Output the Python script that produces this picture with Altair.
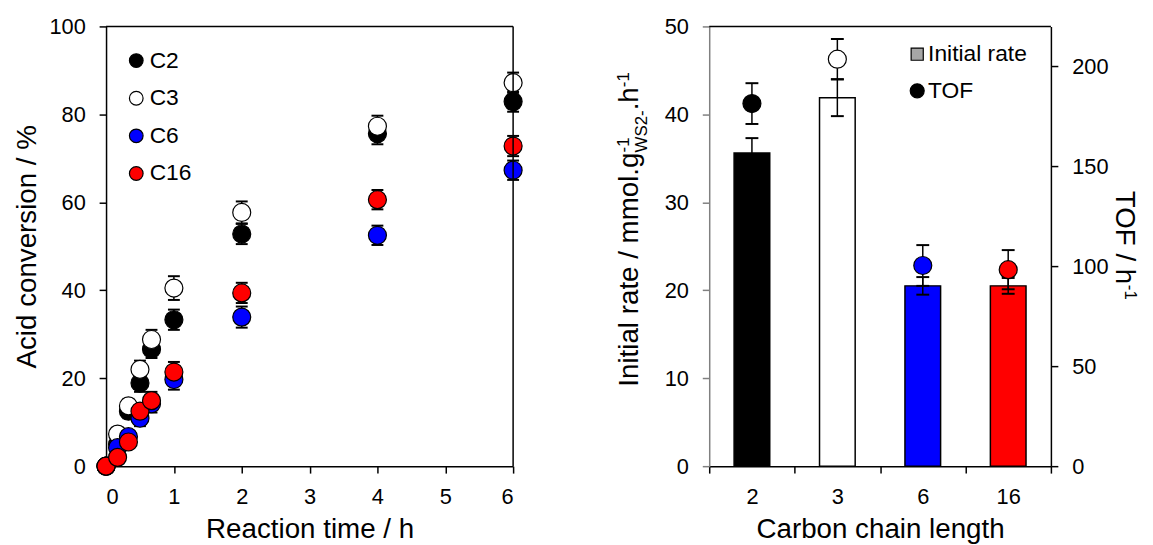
import altair as alt
import pandas as pd

FONT = "Liberation Sans"

# ---------------- Left panel: acid conversion vs time ----------------
times = [0, 0.17, 0.33, 0.5, 0.67, 1, 2, 4, 6]
series = ["C2", "C3", "C6", "C16"]
series_fill = ["#000000", "#ffffff", "#0000ff", "#ff0000"]
conv_c2 = [0, 5.0, 12.5, 18.9, 26.6, 33.3, 52.8, 75.6, 82.9]
conv_c3 = [0, 7.3, 13.7, 22.0, 28.8, 40.5, 57.7, 77.3, 87.2]
conv_c6 = [0, 4.2, 6.7, 10.9, 14.2, 19.7, 33.9, 52.5, 67.3]
conv_c16 = [0, 2.0, 5.5, 12.5, 14.9, 21.4, 39.4, 60.6, 72.8]
err_c2 = [0.5, 1.5, 1.6, 2.0, 2.0, 2.3, 2.3, 2.4, 2.3]
err_c3 = [0.5, 1.5, 1.6, 2.0, 2.2, 2.7, 2.5, 2.4, 2.3]
err_c6 = [0.5, 1.2, 1.4, 1.8, 2.0, 2.3, 2.4, 2.2, 2.2]
err_c16 = [0.5, 1.2, 1.4, 1.8, 2.0, 2.3, 2.3, 2.2, 2.3]

# ---------------- Right panel: initial rate & TOF ----------------
chains = ["2", "3", "6", "16"]
chain_fill = ["#000000", "#ffffff", "#0000ff", "#ff0000"]
rate = [35.6, 41.9, 20.5, 20.5]
rate_err = [1.7, 2.1, 1.0, 0.9]
tof = [181.4, 203.6, 100.4, 98.3]
tof_err = [10.2, 10.1, 10.2, 9.8]

# Arial / Liberation Sans advance widths (per 1000 em), for composing titles
ADV = {"I": 278, "n": 556, "i": 222, "t": 278, "a": 556, "l": 222, " ": 278,
       "r": 333, "e": 556, "/": 278, "m": 833, "o": 556, ".": 278, "g": 556,
       "-": 333, "1": 556, "W": 944, "S": 667, "2": 556, "h": 556, "T": 611,
       "O": 778, "F": 611}


def tw(s, size):
    return sum(ADV[c] for c in s) / 1000.0 * size


rows = []
for name, vals, errs in zip(series, [conv_c2, conv_c3, conv_c6, conv_c16],
                            [err_c2, err_c3, err_c6, err_c16]):
    for t, v, e in zip(times, vals, errs):
        rows.append({"series": name, "t": t, "conv": v, "lo": v - e, "hi": v + e})
df_left = pd.DataFrame(rows)

df_right = pd.DataFrame({
    "chain": chains,
    "rate": rate,
    "rate_lo": [r - e for r, e in zip(rate, rate_err)],
    "rate_hi": [r + e for r, e in zip(rate, rate_err)],
    "tof": tof,
    "tof_lo": [r - e for r, e in zip(tof, tof_err)],
    "tof_hi": [r + e for r, e in zip(tof, tof_err)],
})
one = pd.DataFrame({"k": [0]})

LW, LH = 411, 444
RW, RH = 345, 444
TITLE = 28
SUP = 17

# ---- left panel
x_scale_l = alt.Scale(domain=[0, 6], nice=False)
y_scale_l = alt.Scale(domain=[0, 100], nice=False)
x_axis_l = alt.Axis(values=[0, 1, 2, 3, 4, 5, 6], title="Reaction time / h")
y_axis_l = alt.Axis(values=[0, 20, 40, 60, 80, 100], title="Acid conversion / %")

base_l = alt.Chart(df_left)
err_rule_l = base_l.mark_rule(color="black", strokeWidth=1.5).encode(
    x=alt.X("t:Q", scale=x_scale_l, axis=x_axis_l),
    y=alt.Y("lo:Q", scale=y_scale_l, axis=y_axis_l),
    y2="hi:Q",
)
err_hi_l = base_l.mark_tick(orient="horizontal", size=12, thickness=2, color="black", opacity=1).encode(
    x=alt.X("t:Q", scale=x_scale_l, axis=x_axis_l),
    y=alt.Y("hi:Q", scale=y_scale_l, axis=y_axis_l),
)
err_lo_l = base_l.mark_tick(orient="horizontal", size=12, thickness=2, color="black", opacity=1).encode(
    x=alt.X("t:Q", scale=x_scale_l, axis=x_axis_l),
    y=alt.Y("lo:Q", scale=y_scale_l, axis=y_axis_l),
)
pts_l = base_l.mark_point(shape="circle", filled=True, size=330, stroke="black",
                          strokeWidth=1.2, opacity=1).encode(
    x=alt.X("t:Q", scale=x_scale_l, axis=x_axis_l),
    y=alt.Y("conv:Q", scale=y_scale_l, axis=y_axis_l),
    fill=alt.Fill("series:N", scale=alt.Scale(domain=series, range=series_fill),
                  legend=alt.Legend(orient="none", legendX=19, legendY=23, title=None,
                                    symbolType="circle", symbolSize=190,
                                    symbolStrokeColor="black", symbolStrokeWidth=1.2,
                                    labelFontSize=23, labelFont=FONT, labelColor="black",
                                    rowPadding=14, labelOffset=2, padding=0)),
)
frame_top_l = alt.Chart(one).mark_rule(color="black", strokeWidth=1.5).encode(
    x=alt.value(0), x2=alt.value(LW), y=alt.value(0))
frame_right_l = alt.Chart(one).mark_rule(color="black", strokeWidth=1.5).encode(
    x=alt.value(LW), y=alt.value(0), y2=alt.value(LH))

left = alt.layer(err_rule_l, err_hi_l, err_lo_l, pts_l, frame_top_l, frame_right_l).properties(
    width=LW, height=LH)

# ---- right panel
x_axis_r = alt.Axis(title="Carbon chain length", labelAngle=0, tickBand="extent")
x_scale_r = alt.Scale(domain=chains, paddingInner=0, paddingOuter=0)
xr = alt.X("chain:N", sort=chains, scale=x_scale_r, axis=x_axis_r)

rate_scale = alt.Scale(domain=[0, 50], nice=False)
rate_axis = alt.Axis(values=[0, 10, 20, 30, 40, 50], title=None, orient="left",
                     domainColor="#808080", tickColor="#808080")
tof_scale = alt.Scale(domain=[0, 220], nice=False)
tof_axis = alt.Axis(values=[0, 50, 100, 150, 200], title=None, orient="right")

base_r = alt.Chart(df_right)
chain_fill_enc = alt.Fill("chain:N", scale=alt.Scale(domain=chains, range=chain_fill), legend=None)
bars = base_r.mark_bar(size=36, stroke="black", strokeWidth=1.5).encode(
    x=xr,
    y=alt.Y("rate:Q", scale=rate_scale, axis=rate_axis),
    fill=chain_fill_enc,
)
rate_rule = base_r.mark_rule(color="black", strokeWidth=1.5).encode(
    x=xr, y=alt.Y("rate_lo:Q", scale=rate_scale, axis=rate_axis), y2="rate_hi:Q")
rate_hi_t = base_r.mark_tick(orient="horizontal", size=13, thickness=2, color="black", opacity=1).encode(
    x=xr, y=alt.Y("rate_hi:Q", scale=rate_scale, axis=rate_axis))
rate_lo_t = base_r.mark_tick(orient="horizontal", size=13, thickness=2, color="black", opacity=1).encode(
    x=xr, y=alt.Y("rate_lo:Q", scale=rate_scale, axis=rate_axis))
rate_layer = alt.layer(bars, rate_rule, rate_hi_t, rate_lo_t)

tof_rule = base_r.mark_rule(color="black", strokeWidth=1.5).encode(
    x=xr, y=alt.Y("tof_lo:Q", scale=tof_scale, axis=tof_axis), y2="tof_hi:Q")
tof_hi_t = base_r.mark_tick(orient="horizontal", size=13, thickness=2, color="black", opacity=1).encode(
    x=xr, y=alt.Y("tof_hi:Q", scale=tof_scale, axis=tof_axis))
tof_lo_t = base_r.mark_tick(orient="horizontal", size=13, thickness=2, color="black", opacity=1).encode(
    x=xr, y=alt.Y("tof_lo:Q", scale=tof_scale, axis=tof_axis))
tof_pts = base_r.mark_point(shape="circle", filled=True, size=330, stroke="black",
                            strokeWidth=1.2, opacity=1).encode(
    x=xr,
    y=alt.Y("tof:Q", scale=tof_scale, axis=tof_axis),
    fill=chain_fill_enc,
)
tof_layer = alt.layer(tof_rule, tof_hi_t, tof_lo_t, tof_pts)


def txt(s, x, y, size, angle=0, align="left", baseline="alphabetic"):
    return alt.Chart(one).mark_text(text=s, font=FONT, fontSize=size, angle=angle,
                                    align=align, baseline=baseline, color="black").encode(
        x=alt.value(x), y=alt.value(y))


# composed left title of the right panel: Initial rate / mmol.g^-1_WS2- .h^-1
p_main = "Initial rate / mmol.g"
p_sup1 = "-1"
p_sub = "WS2-"
p_dot = ".h"
p_sup2 = "-1"
total = tw(p_main, TITLE) + max(tw(p_sub, SUP), tw(p_sup1, SUP)) + tw(p_dot, TITLE) + tw(p_sup2, SUP)
bx = -72
y0 = 205 + total / 2
y1 = y0 - tw(p_main, TITLE)
y2 = y1 - max(tw(p_sub, SUP), tw(p_sup1, SUP))
y3 = y2 - tw(p_dot, TITLE)
title_l = [
    txt(p_main, bx, y0, TITLE, 270),
    txt(p_sup1, bx - 9, y1, SUP, 270),
    txt(p_sub, bx + 9, y1, SUP, 270),
    txt(p_dot, bx, y2, TITLE, 270),
    txt(p_sup2, bx - 9, y3, SUP, 270),
]
# composed right title: TOF / h^-1
q_main = "TOF / h"
q_sup = "-1"
tot2 = tw(q_main, TITLE) + tw(q_sup, SUP)
tx = 411
ty0 = 221 - tot2 / 2
title_r = [
    txt(q_main, tx, ty0, TITLE, 90),
    txt(q_sup, tx + 9, ty0 + tw(q_main, TITLE), SUP, 90),
]

# legend of right panel
leg_sq = alt.Chart(one).mark_point(shape="square", filled=True, fill="#a6a6a6", stroke="black",
                                   strokeWidth=1.2, size=150, opacity=1).encode(
    x=alt.value(210), y=alt.value(28))
leg_ci = alt.Chart(one).mark_point(shape="circle", filled=True, fill="black", stroke="black",
                                   strokeWidth=1.2, size=200, opacity=1).encode(
    x=alt.value(210), y=alt.value(65))
leg_t1 = txt("Initial rate", 221, 28, 23, 0, "left", "middle")
leg_t2 = txt("TOF", 221, 65, 23, 0, "left", "middle")
frame_top_r = alt.Chart(one).mark_rule(color="black", strokeWidth=1.5).encode(
    x=alt.value(0), x2=alt.value(RW), y=alt.value(0))

right = alt.layer(rate_layer, tof_layer, frame_top_r, leg_sq, leg_ci, leg_t1, leg_t2,
                  *title_l, *title_r).resolve_scale(y="independent").properties(
    width=RW, height=RH)

chart = alt.hconcat(left, right, spacing=90).resolve_scale(fill="independent").properties(
    padding={"left": 5, "top": 5, "right": 6, "bottom": 0}
).configure_view(stroke=None).configure_axis(
    labelFont=FONT, titleFont=FONT, labelFontSize=22, titleFontSize=TITLE,
    labelColor="black", titleColor="black", domainColor="black", tickColor="black",
    tickSize=7, domainWidth=1.5, tickWidth=1.5, grid=False, labelPadding=14,
    titlePadding=8, titleFontWeight="normal",
).configure_legend(labelFont=FONT)

chart.save("out.html", embed_options={"renderer": "svg", "actions": False})
